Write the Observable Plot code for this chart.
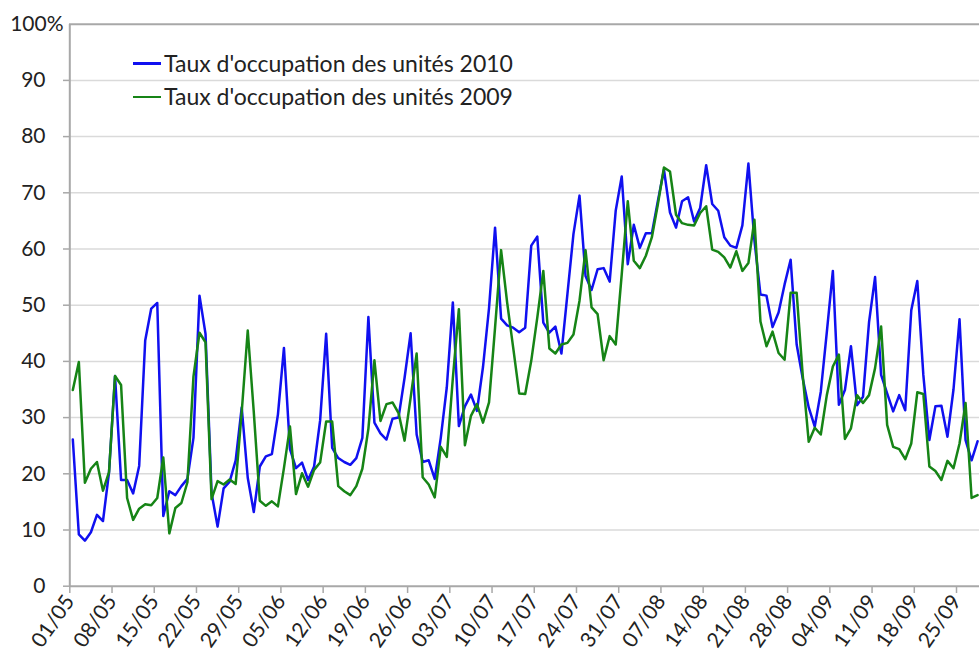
<!DOCTYPE html>
<html>
<head>
<meta charset="utf-8">
<script src="https://cdn.jsdelivr.net/npm/d3@7"></script>
<script src="https://cdn.jsdelivr.net/npm/@observablehq/plot@0.6"></script>
<style>
  html, body { margin: 0; padding: 0; background: #fff; overflow: hidden; }
  #wrap { position: relative; width: 979px; height: 657px; font-family: Lato, "Open Sans", sans-serif; color: #222; }
  #legend { position: absolute; left: 133px; top: 47px; font-size: 23px; line-height: 33.4px; }
  #legend .row { display: flex; align-items: center; white-space: nowrap; }
  #legend .sw { width: 28px; height: 2.5px; margin-right: 3px; }
</style>
</head>
<body>
<div id="wrap"><div id="legend"></div></div>
<script>
// x tick labels (day/month, 2010)
const tickLabels = ["01/05","08/05","15/05","22/05","29/05","05/06","12/06","19/06","26/06","03/07","10/07","17/07","24/07","31/07","07/08","14/08","21/08","28/08","04/09","11/09","18/09","25/09"];
const yTicks = [0,10,20,30,40,50,60,70,80,90];
const seriesNames = ["Taux d'occupation des unités 2010", "Taux d'occupation des unités 2009"];
const seriesColors = ["#1010f0", "#168416"];

// daily values from 01/05
const occ2010 = [26.1,9.2,8.1,9.6,12.7,11.6,20.2,37.4,18.9,18.9,16.5,21.4,43.7,49.4,50.4,12.5,16.9,16.2,17.8,19.1,
26.4,51.7,44.9,16.6,10.6,17.4,18.6,22.4,31.8,19.3,13.2,21.3,23.1,23.5,30.5,42.4,24.4,21.0,22.0,18.9,
21.3,29.5,44.9,24.6,22.8,22.1,21.6,22.8,26.4,47.9,29.1,27.2,26.1,29.8,30.0,37.1,45.0,27.0,22.1,22.4,
19.1,26.4,35.4,50.5,28.5,32.0,34.1,31.2,39.0,49.5,63.8,47.6,46.4,46.0,45.2,46.0,60.6,62.2,46.9,45.1,
46.2,41.4,52.0,62.7,69.5,55.2,52.7,56.4,56.6,54.2,66.8,72.9,57.3,64.3,60.2,62.8,62.8,68.6,74.1,66.5,
63.8,68.5,69.2,64.9,67.3,74.9,68.0,66.8,62.1,60.6,60.2,64.2,75.2,61.5,51.9,51.7,46.1,48.7,53.7,58.1,
43.0,37.0,31.8,28.4,34.6,45.2,56.1,32.3,34.9,42.7,32.2,33.7,47.0,55.0,37.6,34.3,31.1,34.0,31.3,49.1,
54.3,37.6,26.0,32.0,32.1,26.6,35.0,47.5,26.0,22.4,25.8];
const occ2009 = [34.9,39.9,18.4,20.9,22.1,17.0,20.3,37.4,35.8,15.7,11.8,13.8,14.6,14.4,15.7,22.9,9.4,13.9,14.8,18.5,
37.3,45.1,43.4,15.5,18.7,18.1,19.0,18.2,31.0,45.5,31.0,15.2,14.3,15.1,14.2,21.0,28.4,16.4,20.1,17.7,
20.7,22.0,29.3,29.3,17.8,16.9,16.2,17.8,20.9,28.0,40.2,29.4,32.4,32.7,30.8,25.9,33.5,41.4,19.4,18.1,
15.8,24.8,23.0,37.0,49.3,25.1,30.3,32.4,29.1,32.7,46.0,59.8,50.5,42.5,34.3,34.2,40.1,47.8,56.1,42.3,
41.4,43.0,43.3,44.8,50.8,59.8,49.6,48.4,40.2,44.5,43.0,55.5,68.5,57.9,56.6,58.8,62.1,68.0,74.5,73.8,
66.1,64.6,64.3,64.2,66.4,67.6,59.9,59.5,58.5,56.7,59.6,56.1,57.5,65.2,47.1,42.7,45.3,41.5,40.3,52.2,
52.2,37.6,25.7,28.2,27.0,34.0,39.1,41.2,26.2,28.1,34.0,32.6,34.0,38.8,46.2,28.7,24.8,24.4,22.6,25.4,
34.5,34.2,21.3,20.5,18.9,22.3,21.0,25.4,32.6,15.7,16.2];

const parseDay = s => { const [d, m] = s.split("/").map(Number); return new Date(Date.UTC(2010, m - 1, d)); };
const tickDates = tickLabels.map(parseDay);
const labelOf = new Map(tickDates.map((d, i) => [+d, tickLabels[i]]));
const dayAt = i => new Date(Date.UTC(2010, 4, 1 + i, 12));
const rows2010 = occ2010.map((v, i) => ({date: dayAt(i), value: v}));
const rows2009 = occ2009.map((v, i) => ({date: dayAt(i), value: v}));

const x0 = new Date(Date.UTC(2010, 4, 1));
const x1 = new Date(Date.UTC(2010, 9, 1));
const axisGray = "#a8a8a8";

const chart = Plot.plot({
  width: 979,
  height: 657,
  marginTop: 24,
  marginBottom: 71,
  marginLeft: 69,
  marginRight: 0,
  style: {fontFamily: "Lato, 'Open Sans', sans-serif", fontSize: "21px", color: "#222", background: "#fff"},
  x: {type: "utc", domain: [x0, x1], range: [69.3, 992.2], label: null},
  y: {domain: [0, 100], range: [585.7, 23.7], label: null},
  marks: [
    Plot.gridY(yTicks.filter(d => d > 0), {stroke: "#dadada", strokeOpacity: 1, strokeWidth: 1.5}),
    Plot.ruleY([100], {stroke: axisGray, strokeWidth: 2}),
    Plot.ruleY([0], {stroke: axisGray, strokeWidth: 2}),
    Plot.ruleX([x0], {stroke: axisGray, strokeWidth: 2}),
    Plot.axisY({ticks: yTicks, label: null, tickSize: 6, tickPadding: 18, stroke: axisGray, strokeWidth: 1.5, fontSize: 21, tickFormat: d => String(d)}),
    Plot.text([100], {y: d => d, text: () => "100%", frameAnchor: "left", textAnchor: "end", dx: -6, fontSize: 21}),
    Plot.axisX({ticks: tickDates, label: null, tickFormat: d => labelOf.get(+d), tickRotate: -55, tickSize: 7, tickPadding: 4, stroke: axisGray, strokeWidth: 1.5, fontSize: 21}),
    Plot.line(rows2010, {x: "date", y: "value", stroke: seriesColors[0], strokeWidth: 2.5}),
    Plot.line(rows2009, {x: "date", y: "value", stroke: seriesColors[1], strokeWidth: 2.5})
  ]
});
document.getElementById("wrap").prepend(chart);

const legend = document.getElementById("legend");
seriesNames.forEach((name, i) => {
  const row = document.createElement("div");
  row.className = "row";
  const sw = document.createElement("span");
  sw.className = "sw";
  sw.style.background = seriesColors[i];
  const t = document.createElement("span");
  t.textContent = name;
  row.append(sw, t);
  legend.append(row);
});
</script>
</body>
</html>
